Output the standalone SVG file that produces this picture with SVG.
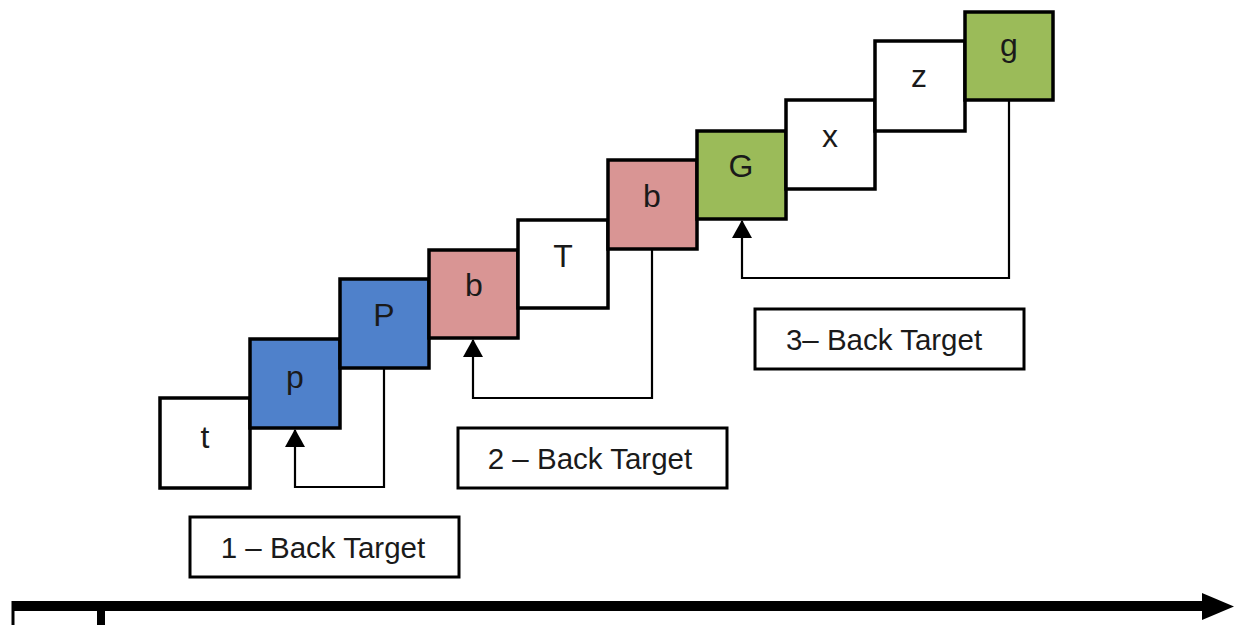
<svg xmlns="http://www.w3.org/2000/svg" width="1239" height="625" viewBox="0 0 1239 625">
  <style>
    .cell { stroke: #000; stroke-width: 3.5; }
    .plain { fill: #fff; }
    .blue { fill: #4F81CB; }
    .pink { fill: #D99594; }
    .green { fill: #9BBB59; }
    .lbl { font-family: "Liberation Sans", Arial, sans-serif; font-size: 32px; fill: #1a1a1a; text-anchor: middle; }
    .tag rect { fill: #fff; stroke: #000; stroke-width: 3; }
    .tag text { font-family: "Liberation Sans", Arial, sans-serif; font-size: 29.5px; fill: #1a1a1a; text-anchor: middle; }
    .link { fill: none; stroke: #000; stroke-width: 2.2; }
  </style>
  <defs>
    <marker id="tri" viewBox="0 0 18 20" refX="17" refY="10" markerWidth="18" markerHeight="20" markerUnits="userSpaceOnUse" orient="auto">
      <path d="M0,0 L18,10 L0,20 Z" fill="#000"/>
    </marker>
  </defs>

  <rect width="1239" height="625" fill="#fff"/>

  <!-- staircase of letter cells -->
  <g id="node-t"><rect class="cell plain" x="160" y="398" width="90" height="90"/><text class="lbl" x="205" y="448">t</text></g>
  <g id="node-p"><rect class="cell blue" x="250" y="339" width="90" height="89"/><text class="lbl" x="295" y="388">p</text></g>
  <g id="node-P"><rect class="cell blue" x="340" y="279" width="89" height="89"/><text class="lbl" x="384" y="326">P</text></g>
  <g id="node-b1"><rect class="cell pink" x="429" y="250" width="89" height="88"/><text class="lbl" x="474" y="296">b</text></g>
  <g id="node-T"><rect class="cell plain" x="518" y="220" width="90" height="88"/><text class="lbl" x="563" y="267">T</text></g>
  <g id="node-b2"><rect class="cell pink" x="608" y="160" width="89" height="89"/><text class="lbl" x="652" y="207">b</text></g>
  <g id="node-G"><rect class="cell green" x="697" y="131" width="89" height="88"/><text class="lbl" x="741" y="177">G</text></g>
  <g id="node-x"><rect class="cell plain" x="786" y="100" width="89" height="89"/><text class="lbl" x="830" y="147">x</text></g>
  <g id="node-z"><rect class="cell plain" x="875" y="41" width="90" height="90"/><text class="lbl" x="919" y="87">z</text></g>
  <g id="node-g"><rect class="cell green" x="965" y="12" width="88" height="88"/><text class="lbl" x="1009" y="56">g</text></g>

  <!-- back-target labels -->
  <g id="tag-1" class="tag"><rect x="190" y="517" width="269" height="60"/><text x="323" y="558">1 – Back Target</text></g>
  <g id="tag-2" class="tag"><rect x="458" y="428" width="269" height="60"/><text x="590" y="469">2 – Back Target</text></g>
  <g id="tag-3" class="tag"><rect x="755" y="309" width="269" height="60"/><text x="884" y="350">3– Back Target</text></g>

  <!-- back-target connectors -->
  <g id="connectors">
    <path class="link" d="M384,368 V487 H295 V430" marker-end="url(#tri)"/>
    <path class="link" d="M652,249 V398 H473 V340" marker-end="url(#tri)"/>
    <path class="link" d="M1009,100 V278 H742 V221" marker-end="url(#tri)"/>
  </g>

  <!-- time axis -->
  <g id="axis">
    <line x1="12" y1="606" x2="1205" y2="606" stroke="#000" stroke-width="10"/>
    <path d="M1202,593 L1234,606.5 L1202,620 Z" fill="#000"/>
    <line x1="13" y1="601" x2="13" y2="625" stroke="#000" stroke-width="3"/>
    <line x1="101" y1="606" x2="101" y2="625" stroke="#000" stroke-width="8"/>
  </g>
</svg>
